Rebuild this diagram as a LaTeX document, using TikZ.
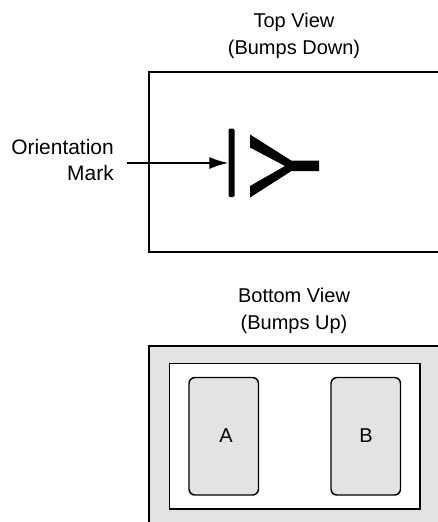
\documentclass[tikz,border=0pt]{standalone}
\usepackage{fontspec}
\setmainfont{Liberation Sans}
\usetikzlibrary{arrows.meta}
\tikzset{
  px/.style={x=0.75pt,y=-0.75pt},
  outline/.style={draw=black,line width=1.1pt},
  lbl/.style={font=\fontsize{15pt}{20pt}\selectfont,align=center,inner sep=0pt},
  sidelbl/.style={font=\fontsize{15.7pt}{20pt}\selectfont,align=right,anchor=east,inner sep=0pt},
  pad/.style={outline,fill=black!11,rounded corners=4.5pt}
}
\begin{document}
\begin{tikzpicture}[px]
\useasboundingbox (0,0) rectangle (437,522);
\node[lbl] (top) at (294,35.5) {Top View\\(Bumps Down)};
\node[lbl] (bot) at (294,310.5) {Bottom View\\(Bumps Up)};
\node[sidelbl] (om) at (114,160) {Orientation\\Mark};
\draw[outline] (438,72) -- (149,72) -- (149,252) -- (438,252);
\fill[rounded corners=1pt] (228.5,128.5) rectangle (234.5,197);
\fill (250,134.5) -- (250,147.5) -- (285,166) -- (250,186) -- (250,197.5) -- (291.5,171) -- (319,171) -- (319,160.7) -- (291.5,160.7) -- cycle;
\coordinate (bar) at (228,163);
\coordinate (start) at (126.5,163);
\draw[line width=0.9pt,-{Latex[length=14pt,width=9pt]}] (start) -- (bar);
\fill[black!11] (149,346) rectangle (438,523);
\draw[outline] (438,346) -- (149,346) -- (149,523);
\filldraw[outline,fill=white] (169.5,363.5) rectangle (420,509);
\draw[pad] (189,377.5) rectangle (258.5,495);
\draw[pad] (331,377.5) rectangle (400.5,495);
\node[lbl] (A) at (226,436) {A};
\node[lbl] (B) at (366,436) {B};
\end{tikzpicture}
\end{document}
